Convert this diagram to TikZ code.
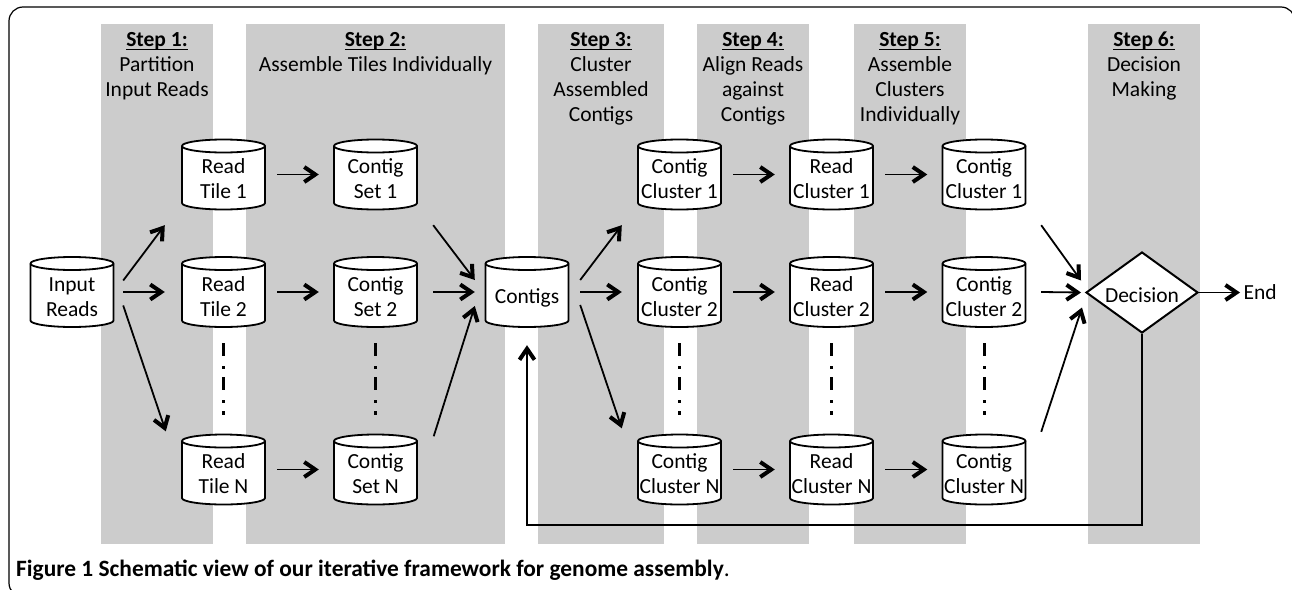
\documentclass[tikz,border=0pt]{standalone}
\usepackage{fontspec}
\setmainfont{Carlito}
\usetikzlibrary{arrows.meta,shapes.geometric}
\definecolor{bandgray}{RGB}{204,204,204}
\pgfdeclarelayer{bands}
\pgfdeclarelayer{drums}
\pgfsetlayers{bands,drums,main}

% underlined bold step title with a low, thin rule
\newcommand\stepul[1]{\setbox0\hbox{\bfseries #1}\rlap{\rule[-3.4pt]{\wd0}{1.3pt}}\box0}
% multi-line header text, baseline on the first line
\newcommand\hdr[1]{\begin{tabular}[t]{@{}c@{}}#1\end{tabular}}
% text inside a storage drum, lowered below the top face
\newcommand\inside[1]{\raisebox{-6.5pt}[\height][\depth]{\begin{tabular}{@{}c@{}}#1\end{tabular}}}
% drum outline around a named node (83 x 70)
\newcommand\drum[1]{%
  \draw[drumline] ([shift={(-41.5,28.5)}]#1.center) -- ++(0,-57)
    arc[start angle=180,end angle=0,x radius=41.5pt,y radius=6.5pt] -- ++(0,57)
    arc[start angle=0,end angle=-180,x radius=41.5pt,y radius=6.5pt] -- cycle;
  \draw[drumline,fill=none] ([shift={(-41.5,-28.5)}]#1.center)
    arc[start angle=180,end angle=360,x radius=41.5pt,y radius=6.5pt];
}

\tikzset{
  txt/.style={font=\fontsize{21.5}{25}\selectfont},
  head/.style={txt, anchor=base, inner sep=0pt},
  store/.style={txt, rectangle, inner sep=0pt, minimum width=83pt, minimum height=70pt},
  drumline/.style={draw=black, fill=white, line width=1.8pt},
  decision/.style={txt, diamond, draw=black, fill=white, line width=2pt, inner sep=0pt,
    minimum width=112pt, minimum height=81pt, aspect=1.38},
  tip/.style={-{Straight Barb[length=11pt,width=15pt,line width=4pt]}},
  flow/.style={tip, line width=1.8pt},
  loopline/.style={tip, line width=1.6pt},
  ellipsis/.style={line width=3pt, dash pattern=on 13pt off 10pt on 3pt off 8pt,
    shorten <=16pt, shorten >=19.5pt},
  frame/.style={line width=1.2pt, rounded corners=14pt},
}

\begin{document}
\begin{tikzpicture}[x=1pt,y=-1pt]
\clip (0,0) rectangle (1292,589);
\draw[frame] (9,7) rectangle (1295,597);

% step columns
\begin{pgfonlayer}{bands}
\foreach \a/\b in {101/213,246/505,538/664,697/809,854/966,1088/1200}
  \fill[bandgray] (\a,24) rectangle (\b,544);
\end{pgfonlayer}

% step headers
\node[head] (h1) at (157,46.7)   {\hdr{\stepul{Step 1:}\\Partition\\Input Reads}};
\node[head] (h2) at (375.5,46.7) {\hdr{\stepul{Step 2:}\\Assemble Tiles Individually}};
\node[head] (h3) at (601,46.7)   {\hdr{\stepul{Step 3:}\\Cluster\\Assembled\\Contigs}};
\node[head] (h4) at (753,46.7)   {\hdr{\stepul{Step 4:}\\Align Reads\\against\\Contigs}};
\node[head] (h5) at (910,46.7)   {\hdr{\stepul{Step 5:}\\Assemble\\Clusters\\Individually}};
\node[head] (h6) at (1144,46.7)  {\hdr{\stepul{Step 6:}\\Decision\\Making}};

% data stores
\node[store] (in)  at (72,292)      {\inside{Input\\Reads}};
\node[store] (t1)  at (223.5,174.5) {\inside{Read\\Tile 1}};
\node[store] (t2)  at (223.5,292)   {\inside{Read\\Tile 2}};
\node[store] (tn)  at (223.5,469.5) {\inside{Read\\Tile N}};
\node[store] (s1)  at (375.5,174.5) {\inside{Contig\\Set 1}};
\node[store] (s2)  at (375.5,292)   {\inside{Contig\\Set 2}};
\node[store] (sn)  at (375.5,469.5) {\inside{Contig\\Set N}};
\node[store] (ctg) at (527,292)     {\inside{Contigs}};
\node[store] (c1)  at (679.5,174.5) {\inside{Contig\\Cluster 1}};
\node[store] (c2)  at (679.5,292)   {\inside{Contig\\Cluster 2}};
\node[store] (cn)  at (679.5,469.5) {\inside{Contig\\Cluster N}};
\node[store] (r1)  at (831.5,174.5) {\inside{Read\\Cluster 1}};
\node[store] (r2)  at (831.5,292)   {\inside{Read\\Cluster 2}};
\node[store] (rn)  at (831.5,469.5) {\inside{Read\\Cluster N}};
\node[store] (a1)  at (984,174.5)   {\inside{Contig\\Cluster 1}};
\node[store] (a2)  at (984,292)     {\inside{Contig\\Cluster 2}};
\node[store] (an)  at (984,469.5)   {\inside{Contig\\Cluster N}};

\begin{pgfonlayer}{drums}
\foreach \n in {in,t1,t2,tn,s1,s2,sn,ctg,c1,c2,cn,r1,r2,rn,a1,a2,an} {\drum{\n}}
\end{pgfonlayer}

\node[decision] (dec) at (1142,292.5) {\raisebox{-2.5pt}[\height][\depth]{Decision}};
\node[txt, anchor=west, inner sep=0pt] (end) at (1243.5,292.5) {End};

% elided rows
\foreach \u/\v in {t2/tn,s2/sn,c2/cn,r2/rn,a2/an}
  \draw[ellipsis] (\u.south) -- (\v.north);

% step 1: partition
\draw[flow] ([shift={(9.5,-11.5)}]in.east) -- ([shift={(-17,15.5)}]t1.south west);
\draw[flow] ([xshift=9.5pt]in.east) -- ([xshift=-17pt]t2.west);
\draw[flow] ([shift={(9.5,13.5)}]in.east) -- ([shift={(-16,-3)}]tn.north west);

% step 2: assemble tiles, steps 4 and 5
\foreach \u/\v in {t1/s1,t2/s2,tn/sn,c1/r1,c2/r2,cn/rn,r1/a1,r2/a2,rn/an}
  \draw[flow] ([xshift=12pt]\u.east) -- ([xshift=-15pt]\v.west);

\draw[flow] ([shift={(16,15.5)}]s1.south east) -- ([shift={(-10.5,-12)}]ctg.west);
\draw[flow] ([xshift=16pt]s2.east) -- ([xshift=-10.5pt]ctg.west);
\draw[flow] ([shift={(16.5,2)}]sn.north east) -- ([shift={(-10.5,14)}]ctg.west);

% step 3: cluster
\draw[flow] ([shift={(11.5,-12)}]ctg.east) -- ([shift={(-16,15.5)}]c1.south west);
\draw[flow] ([xshift=11.5pt]ctg.east) -- ([xshift=-16pt]c2.west);
\draw[flow] ([shift={(11.5,13)}]ctg.east) -- ([shift={(-16,-6)}]cn.north west);

% step 6: decision
\draw[flow] ([shift={(15.5,15.5)}]a1.south east) -- ([shift={(-4,-12)}]dec.west);
\draw[flow] ([xshift=15.5pt]a2.east) -- ([xshift=-4pt]dec.west);
\draw[flow] ([shift={(15.5,-2.5)}]an.north east) -- ([shift={(-3,15)}]dec.west);
\draw[flow] (dec.east) -- ([xshift=-3.5pt]end.west);

% iterate
\draw[loopline] (dec.south) -- ++(0,191) -| ([yshift=-18pt]ctg.south);

\node[anchor=base west, inner sep=0pt, font=\fontsize{23.4}{27}\selectfont\bfseries] (cap) at (16,576)
  {Figure 1 Schematic view of our iterative framework for genome assembly\textmd{.}};
\end{tikzpicture}
\end{document}
